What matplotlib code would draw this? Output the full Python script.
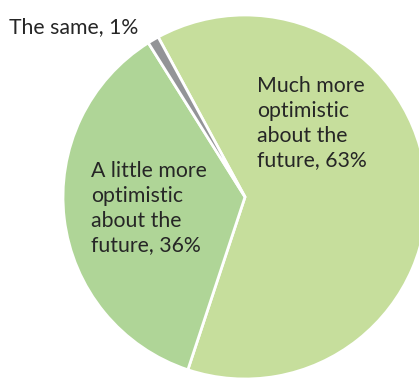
import matplotlib.pyplot as plt

# share of respondents by outlook
labels = ["Much more\noptimistic\nabout the\nfuture, 63%",
          "A little more\noptimistic\nabout the\nfuture, 36%",
          "The same, 1%"]
shares = [63, 36, 1]
colors = ["#c6de9c", "#afd597", "#939497"]

W, H = 419, 379
CX, CY, R = 245, 197, 182

plt.rcParams["font.family"] = ["Lato", "DejaVu Sans"]

fig = plt.figure(figsize=(W / 100, H / 100), dpi=100)
ax = fig.add_axes([0, 0, 1, 1])
ax.pie(shares, colors=colors, startangle=118.5, counterclock=False,
       wedgeprops=dict(edgecolor="white", linewidth=2))
ax.set_xlim(-CX / R, (W - CX) / R)
ax.set_ylim(-(H - CY) / R, CY / R)
ax.set_aspect("equal")
ax.axis("off")

# label positions (top-left corners, pixels)
label_pos = [(257, 76), (91, 161), (9, 17)]
for text, (px, py) in zip(labels, label_pos):
    fig.text(px / W, 1 - py / H, text, ha="left", va="top",
             fontsize=15.3, color="#262626", linespacing=1.3)

fig.savefig("out.png", dpi=100)
